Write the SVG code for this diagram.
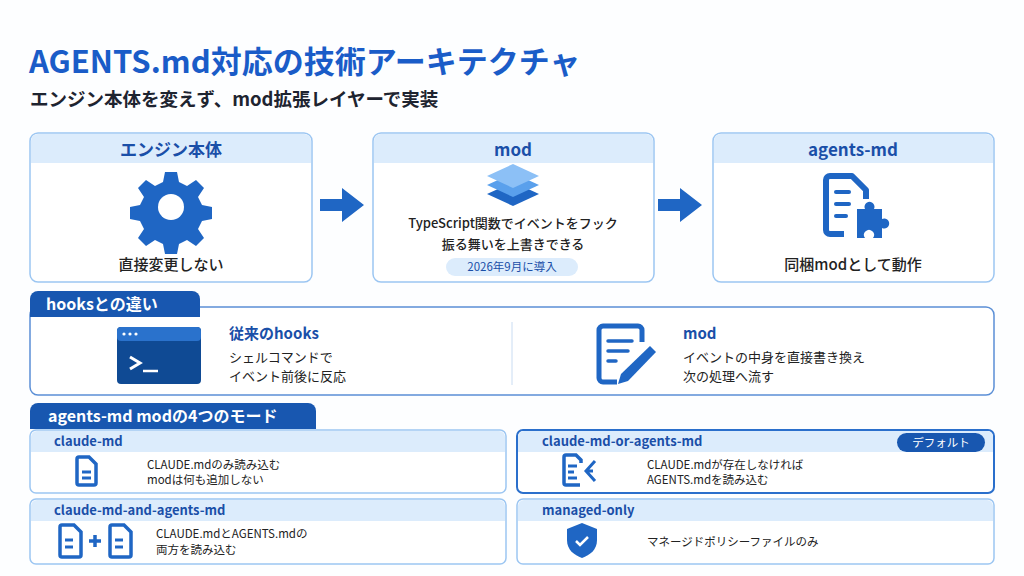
<svg xmlns="http://www.w3.org/2000/svg" width="1024" height="576" viewBox="0 0 1024 576">
<style>
text{font-family:"Noto Sans CJK JP","Noto Sans",sans-serif}
.card{fill:#fff;stroke:#9cc6f2;stroke-width:1.5}
.hd{fill:#dcecfc}
.ht{font-size:17px;font-weight:700;fill:#1a4fa8;text-anchor:middle}
.bt{font-size:15px;font-weight:500;fill:#222;text-anchor:middle}
.mh{font-size:13px;font-weight:700;fill:#1a4fa8}
.mt{font-size:11.5px;fill:#222}
.ic{fill:#1f66c4}
.tab{fill:#1857b0}
.tt{font-size:16px;font-weight:700;fill:#fff}
</style>
<rect width="1024" height="576" fill="#fdfeff"/>
<text x="29" y="73" font-size="31" font-weight="700" fill="#1a5cc8">AGENTS.md対応の技術アーキテクチャ</text>
<text x="30" y="106" font-size="18.5" font-weight="700" fill="#1e2430">エンジン本体を変えず、mod拡張レイヤーで実装</text>

<g id="engine">
<rect class="card" x="30" y="133" width="282" height="149" rx="8"/>
<path class="hd" d="M31 163V141a7 7 0 0 1 7-7H304a7 7 0 0 1 7 7V163Z"/>
<text class="ht" x="171" y="156">エンジン本体</text>
<g transform="translate(171,207)" class="ic">
<path d="M-6 -35h12l2 10 8 4 9-6 8 8-6 9 4 8 10 2v12l-10 2-4 8 6 9-8 8-9-6-8 4-2 10h-12l-2-10-8-4-9 6-8-8 6-9-4-8-10-2v-12l10-2 4-8-6-9 8-8 9 6 8-4Z"/>
<circle r="13" fill="#fff"/>
</g>
<text class="bt" x="171" y="270">直接変更しない</text>
</g>

<g id="mod">
<rect class="card" x="373" y="133" width="281" height="149" rx="8"/>
<path class="hd" d="M374 163V141a7 7 0 0 1 7-7H646a7 7 0 0 1 7 7V163Z"/>
<text class="ht" x="513" y="156">mod</text>
<path d="M487 194l26-12 26 12-26 12Z" fill="#1f66c4"/>
<path d="M487 185l26-12 26 12-26 12Z" fill="#5aa0ec"/>
<path d="M487 176l26-12 26 12-26 12Z" fill="#8cc0f6"/>
<text x="513" y="228" font-size="13" font-weight="500" fill="#222" text-anchor="middle">TypeScript関数でイベントをフック</text>
<text x="513" y="249" font-size="13" font-weight="500" fill="#222" text-anchor="middle">振る舞いを上書きできる</text>
<rect x="446" y="258" width="132" height="18" rx="9" fill="#dcecfc"/>
<text x="512" y="271" font-size="11.5" fill="#1a4fa8" text-anchor="middle">2026年9月に導入</text>
</g>

<g id="agents">
<rect class="card" x="713" y="133" width="281" height="149" rx="8"/>
<path class="hd" d="M714 163V141a7 7 0 0 1 7-7H986a7 7 0 0 1 7 7V163Z"/>
<text class="ht" x="853" y="156">agents-md</text>
<path d="M844 234h-14a4 4 0 0 1-4-4V180a4 4 0 0 1 4-4h22l14 14v9" fill="none" stroke="#1f66c4" stroke-width="6" stroke-linejoin="round"/>
<g stroke="#1f66c4" stroke-width="4" stroke-linecap="round"><line x1="836" y1="192" x2="849" y2="192"/><line x1="836" y1="204" x2="849" y2="204"/><line x1="836" y1="216" x2="846" y2="216"/></g>
<path class="ic" d="M857 209h8a5 5 0 1 1 9 0h8v10a5 5 0 1 1 0 9v10h-9a5 5 0 1 0-8 0h-8Z"/>
<text class="bt" x="853" y="270">同梱modとして動作</text>
</g>

<g id="connectors" class="ic">
<path d="M320 199h22v-11l22 17-22 17v-11h-22Z"/>
<path d="M658 199h22v-11l22 17-22 17v-11h-22Z"/>
</g>

<g id="hooks">
<rect x="30" y="307" width="964" height="88" rx="8" fill="#fff" stroke="#5b8fd6" stroke-width="1.5"/>
<path class="tab" d="M30 317v-18a8 8 0 0 1 8-8H192a8 8 0 0 1 8 8v18Z"/>
<text class="tt" x="46" y="310">hooksとの違い</text>
<line x1="512" y1="322" x2="512" y2="385" stroke="#c9dcf2"/>
<rect x="117" y="327" width="84" height="57" rx="4" fill="#0f4a94"/>
<rect x="117" y="327" width="84" height="14" rx="4" fill="#2a72cc"/>
<g fill="#fff"><circle cx="124" cy="334" r="1.6"/><circle cx="130" cy="334" r="1.6"/><circle cx="136" cy="334" r="1.6"/></g>
<path d="M130 357l10 6-10 6" fill="none" stroke="#fff" stroke-width="3"/>
<line x1="143" y1="371" x2="158" y2="371" stroke="#fff" stroke-width="2.5"/>
<text x="229" y="339" font-size="15" font-weight="700" fill="#1a4fa8">従来のhooks</text>
<text x="229" y="362" font-size="13" fill="#222">シェルコマンドで</text>
<text x="229" y="381" font-size="13" fill="#222">イベント前後に反応</text>
<path d="M642 342v-12a4 4 0 0 0-4-4h-35a4 4 0 0 0-4 4v48a4 4 0 0 0 4 4h14" fill="none" stroke="#1f66c4" stroke-width="5"/>
<g stroke="#1f66c4" stroke-width="3.5" stroke-linecap="round"><line x1="608" y1="341" x2="632" y2="341"/><line x1="608" y1="351" x2="628" y2="351"/><line x1="608" y1="361" x2="616" y2="361"/></g>
<path class="ic" d="M650 346l6 6-28 29-10 3 3-10Z"/>
<text x="683" y="339" font-size="15" font-weight="700" fill="#1a4fa8">mod</text>
<text x="683" y="362" font-size="13" fill="#222">イベントの中身を直接書き換え</text>
<text x="683" y="381" font-size="13" fill="#222">次の処理へ流す</text>
</g>

<g id="modes-tab">
<path class="tab" d="M30 429v-18a8 8 0 0 1 8-8H308a8 8 0 0 1 8 8v18Z"/>
<text class="tt" x="48" y="422">agents-md modの4つのモード</text>
</g>

<g id="mode1">
<rect class="card" x="30" y="430" width="476" height="63" rx="6"/>
<path class="hd" d="M31 452v-15a6 6 0 0 1 6-6H499a6 6 0 0 1 6 6v15Z"/>
<text class="mh" x="54" y="446">claude-md</text>
<path d="M79 457h10l7 7v19a2 2 0 0 1-2 2H79a2 2 0 0 1-2-2V459a2 2 0 0 1 2-2Z" fill="none" stroke="#1f66c4" stroke-width="3.5"/>
<g stroke="#1f66c4" stroke-width="3"><line x1="82" y1="472" x2="91" y2="472"/><line x1="82" y1="478" x2="91" y2="478"/></g>
<text class="mt" x="147" y="469">CLAUDE.mdのみ読み込む</text>
<text class="mt" x="147" y="484">modは何も追加しない</text>
</g>

<g id="mode2">
<rect x="517" y="430" width="477" height="63" rx="6" fill="#fff" stroke="#2a6fcc" stroke-width="2"/>
<path class="hd" d="M518 452v-15a6 6 0 0 1 6-6H987a6 6 0 0 1 6 6v15Z"/>
<text class="mh" x="542" y="446">claude-md-or-agents-md</text>
<rect x="897" y="433" width="88" height="19" rx="9.5" class="tab"/>
<text x="941" y="447" font-size="11.5" fill="#fff" text-anchor="middle">デフォルト</text>
<path d="M581 463v-3l-5-5h-10a2 2 0 0 0-2 2v26a2 2 0 0 0 2 2h14" fill="none" stroke="#1f66c4" stroke-width="3.5"/>
<g stroke="#1f66c4" stroke-width="3"><line x1="568" y1="466" x2="577" y2="466"/><line x1="568" y1="472" x2="574" y2="472"/><line x1="568" y1="478" x2="577" y2="478"/></g>
<path d="M595 461l-9 10 9 10M586 471h7" fill="none" stroke="#1f66c4" stroke-width="3"/>
<text class="mt" x="647" y="469">CLAUDE.mdが存在しなければ</text>
<text class="mt" x="647" y="484">AGENTS.mdを読み込む</text>
</g>

<g id="mode3">
<rect class="card" x="30" y="499" width="476" height="65" rx="6"/>
<path class="hd" d="M31 521v-15a6 6 0 0 1 6-6H499a6 6 0 0 1 6 6v15Z"/>
<text class="mh" x="54" y="515">claude-md-and-agents-md</text>
<path d="M62 525h12l7 7v23a2 2 0 0 1-2 2H62a2 2 0 0 1-2-2V527a2 2 0 0 1 2-2Z" fill="none" stroke="#1f66c4" stroke-width="3.5"/>
<g stroke="#1f66c4" stroke-width="3"><line x1="65" y1="540" x2="73" y2="540"/><line x1="65" y1="547" x2="73" y2="547"/></g>
<path d="M89 541h12M95 535v12" stroke="#1f66c4" stroke-width="3.5"/>
<path d="M112 525h12l7 7v23a2 2 0 0 1-2 2H112a2 2 0 0 1-2-2V527a2 2 0 0 1 2-2Z" fill="none" stroke="#1f66c4" stroke-width="3.5"/>
<g stroke="#1f66c4" stroke-width="3"><line x1="115" y1="540" x2="123" y2="540"/><line x1="115" y1="547" x2="123" y2="547"/></g>
<text class="mt" x="156" y="538">CLAUDE.mdとAGENTS.mdの</text>
<text class="mt" x="156" y="554">両方を読み込む</text>
</g>

<g id="mode4">
<rect class="card" x="517" y="499" width="477" height="65" rx="6"/>
<path class="hd" d="M518 521v-15a6 6 0 0 1 6-6H987a6 6 0 0 1 6 6v15Z"/>
<text class="mh" x="542" y="515">managed-only</text>
<path class="ic" d="M582 523l15 6v11c0 10-7 15-15 18-8-3-15-8-15-18v-11Z"/>
<path d="M576 541l4 4 8-8" fill="none" stroke="#fff" stroke-width="2.5"/>
<text class="mt" x="647" y="546">マネージドポリシーファイルのみ</text>
</g>
</svg>
